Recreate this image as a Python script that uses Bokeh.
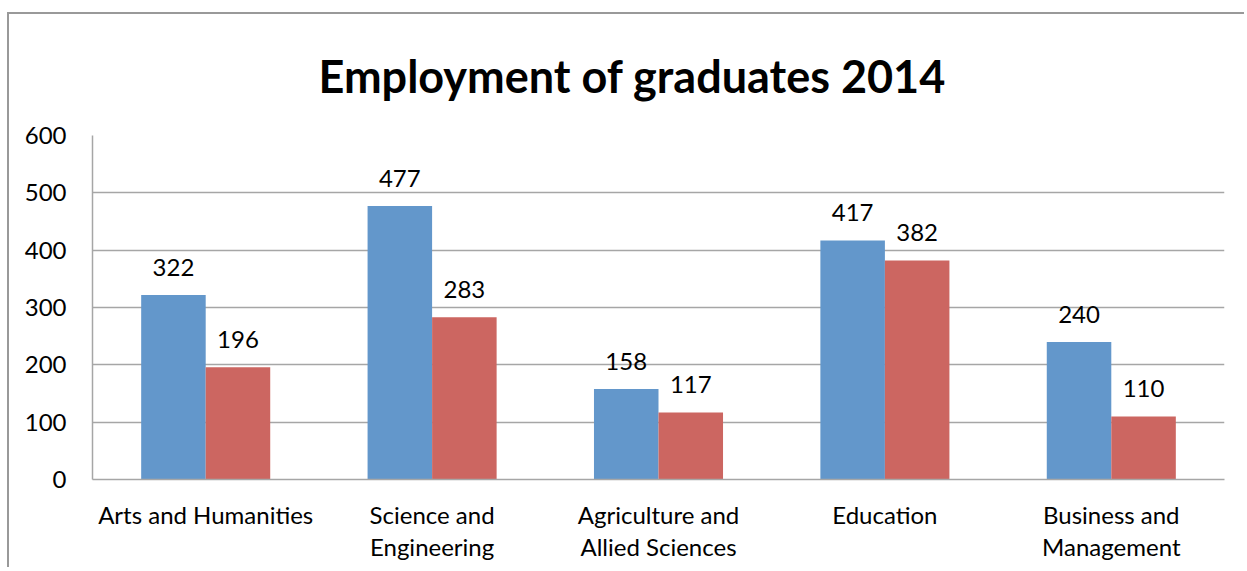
from bokeh.plotting import figure
from bokeh.models import ColumnDataSource, FactorRange, LabelSet, Range1d
from bokeh.core.properties import value
from bokeh.embed import file_html
from bokeh.resources import INLINE
from bokeh.transform import dodge

categories = ["Arts and Humanities", "Science and\nEngineering", "Agriculture and\nAllied Sciences",
              "Education", "Business and\nManagement"]
series_a = [322, 477, 158, 417, 240]
series_b = [196, 283, 117, 382, 110]
y_ticks = [0, 100, 200, 300, 400, 500, 600]

FONT = "Lato"
BLUE = "#6397CB"
RED = "#CC6661"

src = ColumnDataSource(dict(cat=categories, a=series_a, b=series_b,
                            la=[str(v) for v in series_a], lb=[str(v) for v in series_b]))

p = figure(x_range=FactorRange(*categories), y_range=Range1d(0, 600),
           width=1237, height=555, output_backend="svg", toolbar_location=None,
           min_border_left=83, min_border_right=22, min_border_top=120, min_border_bottom=90,
           title="Employment of graduates 2014")
p.styles = {"border-top": "2px solid #999999", "border-left": "2px solid #999999",
            "margin-top": "12px", "margin-left": "7px"}

p.title.align = "left"
p.title.offset = 226
p.title.text_font = FONT
p.title.text_font_style = "bold"
p.title.text_font_size = "45px"
p.title.text_color = "#000000"
p.title.standoff = 65

w = 0.285
p.vbar(x=dodge("cat", -w / 2, range=p.x_range), top="a", width=w, source=src,
       fill_color=BLUE, line_color=None)
p.vbar(x=dodge("cat", w / 2, range=p.x_range), top="b", width=w, source=src,
       fill_color=RED, line_color=None)

for col, lab, off in (("a", "la", -w / 2), ("b", "lb", w / 2)):
    ls = LabelSet(x=dodge("cat", off, range=p.x_range), y=col, text=lab, source=src,
                  text_align="center", text_baseline="alphabetic", y_offset=19,
                  text_font=value(FONT), text_font_size="24px", text_color="#000000")
    p.add_layout(ls)

p.outline_line_color = None
p.xgrid.grid_line_color = None
p.ygrid.grid_line_color = "#A6A6A6"
p.ygrid.grid_line_width = 1.5
p.yaxis.ticker = y_ticks

p.yaxis.axis_line_color = "#A6A6A6"
p.yaxis.axis_line_width = 1.5
p.yaxis.major_tick_line_color = None
p.yaxis.minor_tick_line_color = None
p.yaxis.major_label_standoff = 20
p.yaxis.major_label_text_font = FONT
p.yaxis.major_label_text_font_size = "24px"
p.yaxis.major_label_text_color = "#000000"

p.xaxis.axis_line_color = "#A6A6A6"
p.xaxis.axis_line_width = 1.5
p.xaxis.major_tick_line_color = None
p.xaxis.minor_tick_line_color = None
p.xaxis.major_label_standoff = 14
p.xaxis.major_label_text_font = FONT
p.xaxis.major_label_text_font_size = "24px"
p.xaxis.major_label_text_color = "#000000"
p.xaxis.major_label_text_line_height = 1.12

p.background_fill_color = "white"
p.border_fill_color = "white"

open("out.html", "w").write(file_html(p, INLINE))
